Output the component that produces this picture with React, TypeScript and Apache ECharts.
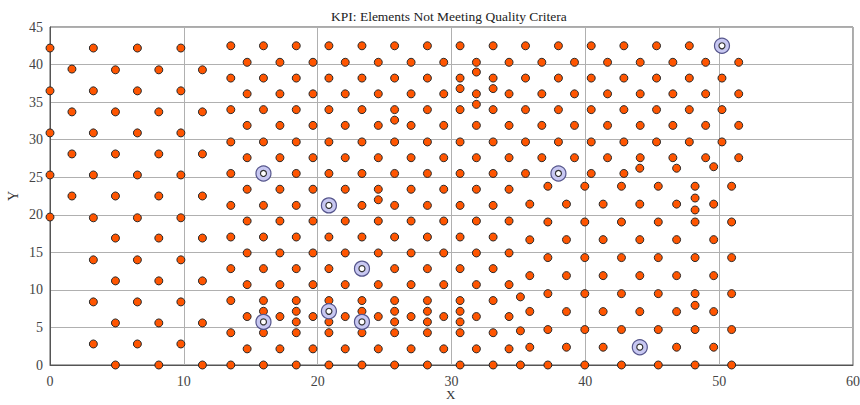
import React, { useEffect, useRef } from "react";
import * as echarts from "echarts";

const TITLE = "KPI: Elements Not Meeting Quality Critera";
const X_NAME = "X";

const xTicks = [0, 10, 20, 30, 40, 50, 60];
const yTicks = [0, 5, 10, 15, 20, 25, 30, 35, 40, 45];

// Sparse block on the left: [x, y values]
const leftColumns: [number, number[]][] = [
  [0, [42.2, 36.5, 30.9, 25.3, 19.7]],
  [1.64, [39.4, 33.7, 28.1, 22.5]],
  [3.24, [42.2, 36.5, 30.9, 25.3, 19.6, 14.0, 8.4, 2.8]],
  [4.89, [39.3, 33.7, 28.1, 22.5, 16.9, 11.2, 5.6, 0]],
  [6.53, [42.2, 36.5, 30.9, 25.3, 19.6, 14.0, 8.4, 2.8]],
  [8.13, [39.3, 33.7, 28.1, 22.5, 16.9, 11.2, 5.6, 0]],
  [9.78, [42.2, 36.5, 30.9, 25.3, 19.6, 14.0, 8.4, 2.8]],
  [11.39, [39.3, 33.7, 28.1, 22.5, 16.9, 11.2, 5.6, 0]],
];

// Dense central block: shared row levels
const rowsA = [0, 4.3, 8.58, 12.83, 17.04, 21.25, 25.5, 29.7, 34.0, 38.2, 42.5];
const rowsB = [2.15, 6.45, 10.7, 14.92, 19.17, 23.4, 27.6, 31.9, 36.1, 40.3];
const rowsC = [5.74, 7.15];

const centerColumns: [number, number[]][] = [
  [13.51, rowsA],
  [14.73, rowsB],
  [15.95, [...rowsA, ...rowsC]],
  [17.18, rowsB],
  [18.4, [...rowsA, ...rowsC]],
  [19.65, rowsB],
  [20.84, [...rowsA, ...rowsC]],
  [22.06, rowsB],
  [23.31, [...rowsA, ...rowsC]],
  [24.53, [...rowsB, 22.0]],
  [25.75, [...rowsA, ...rowsC, 32.6]],
  [26.98, rowsB],
  [28.2, [...rowsA, ...rowsC]],
  [29.42, rowsB],
  [30.64, [...rowsA, ...rowsC, 36.8]],
  [31.86, [...rowsB, 34.7, 39.0]],
  [33.11, [...rowsA, 36.8]],
  [34.3, rowsB],
];

// Upper-right block
const upperColumns: [number, number[]][] = [
  [35.53, [25.5, 29.7, 34.0, 38.2, 42.5]],
  [36.75, [27.6, 31.9, 36.1, 40.3]],
  [37.99, [25.5, 29.7, 34.0, 38.2, 42.5]],
  [39.19, [27.6, 31.9, 36.1, 40.3]],
  [40.44, [25.5, 29.7, 34.0, 38.2, 42.5]],
  [41.66, [27.6, 31.9, 36.1, 40.3]],
  [42.88, [25.5, 29.7, 34.0, 38.2, 42.5]],
  [44.1, [27.6, 31.9, 36.1, 40.3]],
  [45.32, [29.7, 34.0, 38.2, 42.5]],
  [46.54, [27.6, 31.9, 36.1, 40.3]],
  [47.77, [29.7, 34.0, 38.2, 42.5]],
  [48.99, [27.6, 31.9, 36.1, 40.3]],
  [50.21, [29.7, 34.0, 38.2, 42.5]],
  [51.46, [27.6, 31.9, 36.1, 40.3]],
];

// Lower-right block
const lowerColumns: [number, number[]][] = [
  [35.15, [0, 4.55, 9.07]],
  [35.85, [2.37, 7.13, 11.9, 16.67, 21.42]],
  [37.2, [0, 4.72, 9.5, 14.3, 19.04, 23.8]],
  [38.59, [2.37, 7.11, 11.9, 16.69, 21.42]],
  [39.96, [0, 4.72, 9.5, 14.3, 19.04, 23.8]],
  [41.33, [2.37, 7.11, 11.9, 16.69, 21.42]],
  [42.7, [0, 4.72, 9.5, 14.3, 19.04, 23.8]],
  [44.07, [2.37, 7.11, 11.9, 16.69, 21.42, 26.2]],
  [45.45, [0, 4.72, 9.5, 14.3, 19.04, 23.8]],
  [46.82, [2.37, 7.11, 11.9, 16.69, 21.42, 26.2]],
  [48.2, [0, 4.72, 7.95, 9.5, 14.3, 19.04, 20.64, 22.23, 23.8]],
  [49.59, [2.37, 7.11, 11.9, 16.69, 21.42, 26.4]],
  [50.93, [0, 4.72, 9.5, 14.3, 19.04, 23.8]],
];

// Flagged elements
const flagged: [number, number][] = [
  [15.95, 25.5],
  [20.84, 21.25],
  [23.31, 12.83],
  [15.95, 5.74],
  [20.84, 7.15],
  [23.31, 5.74],
  [37.99, 25.5],
  [44.07, 2.37],
  [50.21, 42.5],
];

const FONT = "Liberation Serif";

function toPoints(cols: [number, number[]][]): [number, number][] {
  const out: [number, number][] = [];
  cols.forEach(([x, ys]) => ys.forEach((y) => out.push([x, y])));
  return out;
}

export default function App() {
  const ref = useRef<HTMLDivElement>(null);

  useEffect(() => {
    if (!ref.current) return;
    const chart = echarts.init(ref.current, undefined, { renderer: "svg" });

    const elements = [
      ...toPoints(leftColumns),
      ...toPoints(centerColumns),
      ...toPoints(upperColumns),
      ...toPoints(lowerColumns),
    ];

    const axisLabel = { fontFamily: FONT, fontSize: 14, color: "#444" };

    chart.setOption({
      animation: false,
      backgroundColor: "#fff",
      title: {
        text: TITLE,
        left: 326,
        top: 4,
        textStyle: { fontFamily: FONT, fontSize: 13.5, fontWeight: "normal", color: "#222" },
      },
      grid: {
        left: 50,
        right: 7,
        top: 27,
        bottom: 40,
        outerBoundsMode: "none",
        containLabel: false,
        show: true,
        borderColor: "#555",
        borderWidth: 1,
      },
      // x-axis title placed under the tick labels
      graphic: [
        {
          type: "text",
          left: 446,
          top: 388,
          style: { text: X_NAME, font: `13px "${FONT}"`, fill: "#333" },
        },
      ],
      xAxis: {
        type: "value",
        min: xTicks[0],
        max: xTicks[xTicks.length - 1],
        interval: 10,
        axisLine: { show: true, lineStyle: { color: "#555" } },
        axisTick: { show: false },
        axisLabel: { ...axisLabel, margin: 9 },
        splitLine: { show: true, lineStyle: { color: "#b0b0b0", width: 1 } },
      },
      yAxis: {
        type: "value",
        min: yTicks[0],
        max: yTicks[yTicks.length - 1],
        interval: 5,
        name: "Y",
        nameLocation: "middle",
        nameGap: 30,
        nameMoveOverlap: false,
        nameTextStyle: { fontFamily: FONT, fontSize: 14, color: "#333" },
        axisLine: { show: true, lineStyle: { color: "#555" } },
        axisTick: { show: false },
        axisLabel: { ...axisLabel, margin: 7 },
        splitLine: { show: true, lineStyle: { color: "#b0b0b0", width: 1 } },
      },
      series: [
        {
          type: "scatter",
          data: elements,
          symbol: "circle",
          symbolSize: 8,
          itemStyle: { color: "#ff5500", borderColor: "#2a2a2a", borderWidth: 1, opacity: 1 },
          z: 2,
        },
        {
          type: "scatter",
          data: flagged,
          symbol: "circle",
          symbolSize: 15,
          itemStyle: { color: "#c8c8f2", borderColor: "#55558c", borderWidth: 1.2, opacity: 1 },
          z: 3,
        },
        {
          type: "scatter",
          data: flagged,
          symbol: "circle",
          symbolSize: 6,
          itemStyle: { color: "#ffffff", borderColor: "#333", borderWidth: 1.2, opacity: 1 },
          z: 4,
        },
      ],
    });

    return () => chart.dispose();
  }, []);

  return <div ref={ref} style={{ width: 860, height: 405, position: "absolute", left: 0, top: 0 }} />;
}
